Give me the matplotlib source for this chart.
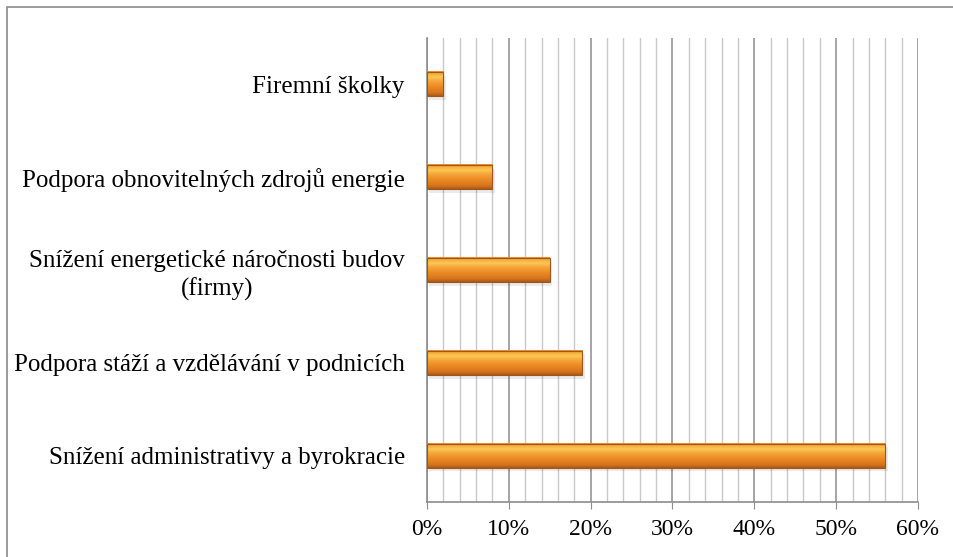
import numpy as np
import matplotlib.pyplot as plt
from matplotlib.patches import Rectangle
from matplotlib.ticker import MultipleLocator, PercentFormatter
from matplotlib.colors import LinearSegmentedColormap

categories = [
    "Snížení administrativy a byrokracie",
    "Podpora stáží a vzdělávání v podnicích",
    "Snížení energetické náročnosti budov\n(firmy)",
    "Podpora obnovitelných zdrojů energie",
    "Firemní školky",
]
values = [56, 19, 15, 8, 2]

plt.rcParams['font.family'] = ['Liberation Serif', 'DejaVu Serif']

W, H = 954, 557
fig = plt.figure(figsize=(W / 100, H / 100), dpi=100)
ax = fig.add_axes([427 / W, 1 - 502 / H, (918 - 427) / W, (502 - 38) / H])

# outer frame
fig.patches.append(Rectangle((7 / W, -0.1), 1.2, 1 - 7 / H + 0.1, transform=fig.transFigure,
                             fill=False, edgecolor='#8a8a8a', linewidth=1.2))

y = np.arange(len(categories))
bh = 0.26
bars = ax.barh(y, values, height=bh, color='none', edgecolor='#a0561a', linewidth=0.8, zorder=3)

# vertical orange gradient on each bar (bottom -> top)
cmap = LinearSegmentedColormap.from_list(
    'og', [(0, '#a8581a'), (0.12, '#d5741c'), (0.4, '#ee8c26'),
           (0.62, '#f6a83c'), (0.76, '#fcc957'), (0.88, '#f7b040'), (1, '#ec8a28')])
grad = np.linspace(0, 1, 64).reshape(-1, 1)
for yi, v in zip(y, values):
    ax.imshow(grad, cmap=cmap, aspect='auto', extent=(0, v, yi - bh / 2, yi + bh / 2),
              origin='lower', zorder=2.5, interpolation='bicubic')
    # soft shadow
    ax.add_patch(Rectangle((0.3, yi - bh / 2 - 0.04), v, bh, color='#000000', alpha=0.08,
                           zorder=2, linewidth=0))

ax.set_xlim(0, 60)
ax.set_ylim(-0.5, len(categories) - 0.5)
ax.xaxis.set_major_locator(MultipleLocator(10))
ax.xaxis.set_minor_locator(MultipleLocator(2))
ax.xaxis.set_major_formatter(PercentFormatter(decimals=0))
ax.grid(axis='x', which='major', color='#8c8c8c', linewidth=1.1, zorder=0)
ax.grid(axis='x', which='minor', color='#c8c8c8', linewidth=1.0, zorder=0)
ax.set_axisbelow(True)

ax.set_yticks(y)
ax.set_yticklabels(categories, fontsize=18, multialignment='center', linespacing=1.3)
ax.tick_params(axis='y', length=0, pad=16)
ax.tick_params(axis='x', which='major', length=5, color='#8c8c8c', labelsize=17, pad=7)
ax.tick_params(axis='x', which='minor', length=0)

for s in ['top', 'right']:
    ax.spines[s].set_visible(False)
for s in ['left', 'bottom']:
    ax.spines[s].set_color('#8c8c8c')
    ax.spines[s].set_linewidth(1.2)

fig.savefig('out.png', dpi=100)
